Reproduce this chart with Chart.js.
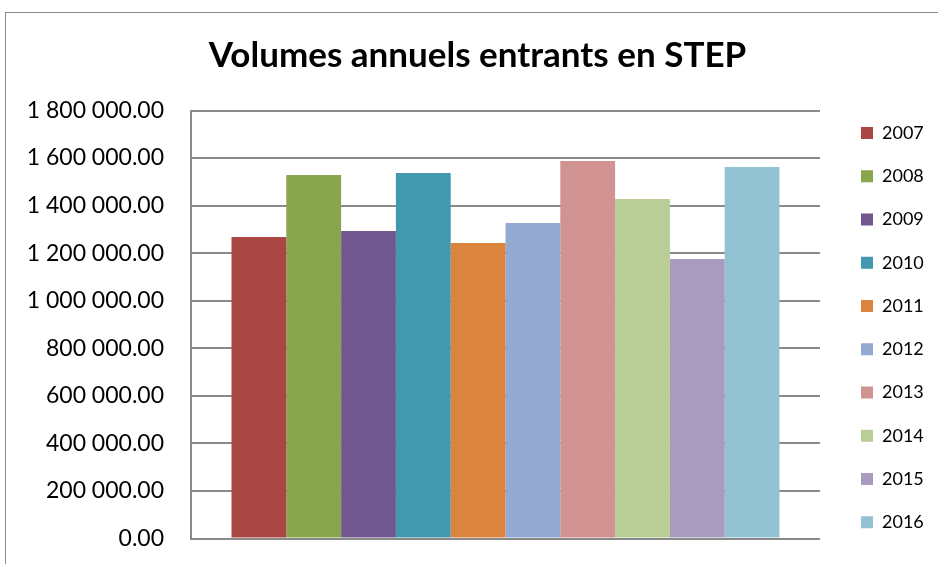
<!DOCTYPE html>
<html>
<head>
<meta charset="utf-8">
<script src="https://cdn.jsdelivr.net/npm/chart.js@4/dist/chart.umd.min.js"></script>
<style>
  html, body { margin: 0; padding: 0; background: #ffffff; }
  #wrap { position: relative; width: 938px; height: 564px; overflow: hidden; }
  #frame { position: absolute; left: 5px; top: 12px; width: 1000px; height: 700px; border: 1.5px solid #8a8a8a; box-sizing: border-box; }
  canvas { position: absolute; left: 0; top: 0; }
</style>
</head>
<body>
<div id="wrap">
  <div id="frame"></div>
  <canvas id="c" width="938" height="564"></canvas>
</div>
<script>
const titleText = 'Volumes annuels entrants en STEP';
const categories = [''];
const years = ['2007', '2008', '2009', '2010', '2011', '2012', '2013', '2014', '2015', '2016'];
const volumes = [1268000, 1529000, 1293000, 1537000, 1243000, 1327000, 1588000, 1428000, 1175000, 1562000];
const colors = ['#AA4643', '#89A54E', '#71588F', '#4198AF', '#DB843D', '#93A9CF', '#D19392', '#B9CD96', '#A99BBD', '#92C3D3'];
const yMin = 0;
const yMax = 1800000;
const yStep = 200000;

function fmt(v) {
  const s = Number(v).toFixed(2);
  const parts = s.split('.');
  const intPart = parts[0].replace(/\B(?=(\d{3})+(?!\d))/g, ' ');
  return intPart + '.' + parts[1];
}

const datasets = years.map((y, i) => ({
  label: y,
  data: [volumes[i]],
  backgroundColor: colors[i],
  borderWidth: 0,
  barPercentage: 1,
  categoryPercentage: 0.8712
}));

const chart = new Chart(document.getElementById('c'), {
  type: 'bar',
  data: { labels: categories, datasets: datasets },
  options: {
    responsive: false,
    animation: false,
    devicePixelRatio: 1,
    layout: { padding: { left: 26.25, right: 9.25, top: 0, bottom: 7.5 } },
    plugins: {
      title: {
        display: true,
        text: titleText,
        color: '#000000',
        font: { family: 'Lato', size: 35, weight: 'bold', lineHeight: 1 },
        padding: { top: 38, bottom: 37.5 }
      },
      legend: {
        display: true,
        position: 'right',
        align: 'end',
        maxWidth: 93,
        labels: {
          boxWidth: 12,
          boxHeight: 12,
          padding: 25.25,
          color: '#000000',
          font: { family: 'Lato', size: 18 }
        }
      },
      tooltip: { enabled: false }
    },
    scales: {
      x: {
        display: true,
        grid: { display: false },
        border: { display: false },
        ticks: { display: false },
        afterFit: (s) => { s.height = 18; }
      },
      y: {
        position: 'left',
        min: yMin,
        max: yMax,
        ticks: {
          stepSize: yStep,
          padding: 27,
          color: '#000000',
          font: { family: 'Lato', size: 23 },
          callback: (v) => fmt(v)
        },
        grid: { color: '#8a8a8a', lineWidth: 2, drawTicks: false },
        border: { display: true, color: '#8a8a8a', width: 2 },
        afterFit: (s) => { s.width = 164.75; s.paddingTop = 0; s.paddingBottom = 0; }
      },
      y2: {
        type: 'linear',
        position: 'right',
        display: true,
        grid: { display: false },
        border: { display: false },
        ticks: { display: false },
        afterFit: (s) => { s.width = 15.75; }
      }
    }
  }
});
</script>
</body>
</html>
